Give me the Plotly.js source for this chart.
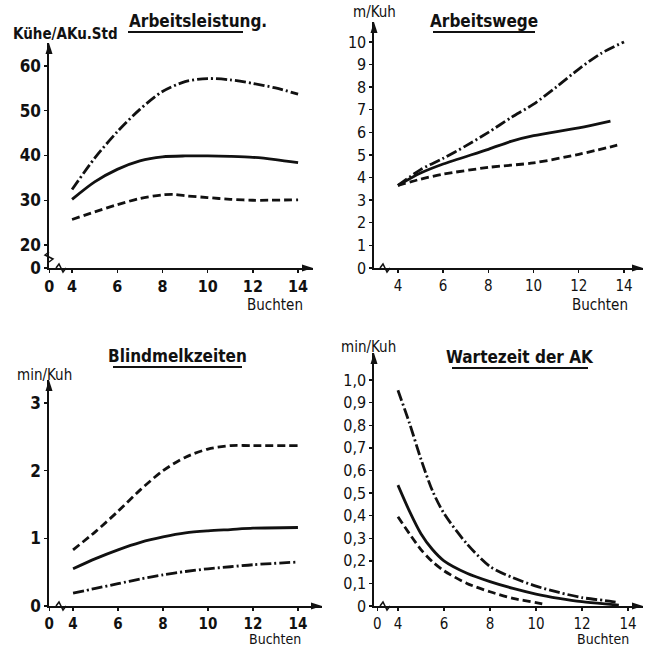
<!DOCTYPE html>
<html>
<head>
<meta charset="utf-8">
<script src="https://cdn.plot.ly/plotly-3.0.1.min.js"></script>
<style>html,body{margin:0;padding:0;background:#fff;}#chart{width:653px;height:648px;}</style>
</head>
<body>
<div id="chart"></div>
<script>
// ---------- data ----------
// Arbeitsleistung (Kühe/AKu.Std)
const buchtenA = [4, 5, 6, 7, 8, 9, 10, 11, 12, 13, 14];
const leistungDashDot = [32.4, 39.4, 45.3, 50.3, 54.3, 56.5, 57.2, 56.9, 56.1, 55.1, 53.7];
const leistungSolid   = [30.2, 34.1, 36.9, 38.8, 39.7, 39.9, 39.9, 39.8, 39.6, 39.1, 38.4];
const buchtenADash = [4, 5, 6, 7, 8, 8.5, 9, 10, 11, 12, 14];
const leistungDash    = [25.7, 27.4, 29.0, 30.4, 31.2, 31.3, 31.0, 30.6, 30.2, 30.0, 30.1];

// Arbeitswege (m/Kuh)
const buchtenW1 = [4, 5, 6, 7, 8, 9, 10, 11, 12, 13, 14];
const wegeDashDot = [3.65, 4.35, 4.85, 5.4, 6.0, 6.65, 7.25, 8.0, 8.8, 9.5, 10.0];
const buchtenW2 = [4, 5, 6, 8, 9, 10, 12, 13.4];
const wegeSolid   = [3.65, 4.2, 4.6, 5.25, 5.6, 5.85, 6.2, 6.5];
const buchtenW3 = [4, 5, 6, 8, 10, 12, 13.7];
const wegeDash    = [3.65, 3.93, 4.15, 4.45, 4.65, 5.03, 5.43];

// Blindmelkzeiten (min/Kuh)
const buchtenB = [4, 5, 6, 7, 8, 9, 10, 11, 12, 14];
const blindDash    = [0.83, 1.1, 1.4, 1.72, 2.0, 2.2, 2.32, 2.37, 2.37, 2.37];
const blindSolid   = [0.55, 0.7, 0.83, 0.94, 1.02, 1.08, 1.11, 1.13, 1.15, 1.16];
const blindDashDot = [0.19, 0.26, 0.33, 0.4, 0.46, 0.51, 0.55, 0.58, 0.61, 0.65];

// Wartezeit der AK (min/Kuh)
const buchtenZ1 = [4, 4.5, 5, 5.5, 6, 7, 8, 9, 10, 11, 12, 13, 13.6];
const warteDashDot = [0.955, 0.81, 0.65, 0.51, 0.41, 0.275, 0.175, 0.125, 0.088, 0.06, 0.037, 0.024, 0.015];
const warteSolid   = [0.535, 0.42, 0.32, 0.25, 0.2, 0.145, 0.108, 0.078, 0.053, 0.034, 0.019, 0.009, 0.004];
const buchtenZ2 = [4, 4.5, 5, 5.5, 6, 7, 8, 9, 10, 10.3];
const warteDash    = [0.395, 0.32, 0.25, 0.196, 0.156, 0.1, 0.063, 0.034, 0.015, 0.009];

// tick labels
const xTicksA = ['0', '4', '6', '8', '10', '12', '14'];
const xTicksB = ['4', '6', '8', '10', '12', '14'];
const yTicks1 = ['0', '20', '30', '40', '50', '60'];
const yTicks2 = ['0','1','2','3','4','5','6','7','8','9','10'];
const yTicks3 = ['0', '1', '2', '3'];
const yTicks4 = ['0','0,1','0,2','0,3','0,4','0,5','0,6','0,7','0,8','0,9','1,0'];

// ---------- helpers ----------
const W = 653, H = 648;
const px = x => x / W;
const py = y => 1 - y / H;
const FONT = '"DejaVu Sans Condensed", "Liberation Sans Narrow", "Liberation Sans", Arial, sans-serif';

const SOLID = 'solid';
const DASH = '8px,4px';
const DASHDOT = '11px,3px,2px,3px';

function line(x, y, dash, xa, ya) {
  return {
    x: x, y: y, xaxis: xa, yaxis: ya, mode: 'lines', type: 'scatter',
    line: {color: '#111', width: 2.8, dash: dash, shape: 'spline', smoothing: 0.8},
    hoverinfo: 'skip', showlegend: false
  };
}

const data = [
  line(buchtenA, leistungDashDot, DASHDOT, 'x', 'y'),
  line(buchtenA, leistungSolid, SOLID, 'x', 'y'),
  line(buchtenADash, leistungDash, DASH, 'x', 'y'),
  line(buchtenW1, wegeDashDot, DASHDOT, 'x2', 'y2'),
  line(buchtenW2, wegeSolid, SOLID, 'x2', 'y2'),
  line(buchtenW3, wegeDash, DASH, 'x2', 'y2'),
  line(buchtenB, blindDash, DASH, 'x3', 'y3'),
  line(buchtenB, blindSolid, SOLID, 'x3', 'y3'),
  line(buchtenB, blindDashDot, DASHDOT, 'x3', 'y3'),
  line(buchtenZ1, warteDashDot, DASHDOT, 'x4', 'y4'),
  line(buchtenZ1, warteSolid, SOLID, 'x4', 'y4'),
  line(buchtenZ2, warteDash, DASH, 'x4', 'y4')
];

function axis(domain, range, tickvals, ticktext, anchor, font) {
  return {
    domain: domain, range: range, anchor: anchor,
    tickmode: 'array', tickvals: tickvals, ticktext: ticktext,
    showline: true, linecolor: '#111', linewidth: 1.6,
    ticks: 'outside', ticklen: 3, tickwidth: 1.4, tickcolor: '#111',
    showgrid: false, zeroline: false, fixedrange: true,
    tickfont: font
  };
}
const fontBold = {family: FONT, size: 17, color: '#111', weight: 700};
const fontReg = {family: FONT, size: 16, color: '#111'};
const fontBoldX = {family: FONT, size: 16, color: '#111', weight: 700};
const fontBoldX3 = {family: FONT, size: 15, color: '#111', weight: 700};
const fontRegX = {family: FONT, size: 15, color: '#111'};

const layout = {
  width: W, height: H,
  margin: {l: 0, r: 0, t: 0, b: 0},
  paper_bgcolor: '#fff', plot_bgcolor: 'rgba(0,0,0,0)',
  showlegend: false,
  xaxis: axis([px(49), px(313)], [2.98, 14.66], [2.99, 4, 6, 8, 10, 12, 14], xTicksA, 'y', fontBoldX),
  yaxis: axis([py(268), py(43)], [14.86, 65.14], [14.87, 20, 30, 40, 50, 60], yTicks1, 'x', fontBold),
  xaxis2: axis([px(374), px(643)], [2.94, 14.84], [4, 6, 8, 10, 12, 14], xTicksB, 'y2', fontRegX),
  yaxis2: axis([py(268), py(22)], [0, 10.88], [0,1,2,3,4,5,6,7,8,9,10], yTicks2, 'x2', fontReg),
  xaxis3: axis([px(49), px(322)], [2.93, 15.07], [2.94, 4, 6, 8, 10, 12, 14], xTicksA, 'y3', fontBoldX3),
  yaxis3: axis([py(606), py(380)], [0, 3.34], [0, 1, 2, 3], yTicks3, 'x3', fontBold),
  xaxis4: axis([px(374), px(643)], [2.96, 14.65], [3.1, 4, 6, 8, 10, 12, 14], xTicksA, 'y4', fontRegX),
  yaxis4: axis([py(606), py(353)], [0, 1.12], [0,0.1,0.2,0.3,0.4,0.5,0.6,0.7,0.8,0.9,1.0], yTicks4, 'x4', fontReg),
  shapes: [],
  annotations: []
};

// arrowheads, axis breaks, title underlines (decoration, pixel based)
function tri(x1,y1,x2,y2,x3,y3) {
  return {type: 'path', xref: 'paper', yref: 'paper', line: {width: 0}, fillcolor: '#111',
    path: `M${px(x1)},${py(y1)} L${px(x2)},${py(y2)} L${px(x3)},${py(y3)} Z`};
}
function poly(pts, w) {
  return {type: 'path', xref: 'paper', yref: 'paper', line: {color: '#111', width: w || 1.5},
    path: pts.map((p, i) => (i ? 'L' : 'M') + px(p[0]) + ',' + py(p[1])).join(' ')};
}
function yArrow(x, yTip) { return tri(x, yTip, x - 3.5, yTip + 11, x + 3.5, yTip + 11); }
function xArrow(xTip, y) { return tri(xTip, y, xTip - 11, y - 3.5, xTip - 11, y + 3.5); }
function xBreak(x, y) { return poly([[x - 5, y], [x - 2, y - 4], [x + 2, y + 4], [x + 5, y]], 1.5); }
function yBreak(x, y) { return poly([[x, y + 5], [x + 4, y + 2], [x - 4, y - 2], [x, y - 5]], 1.5); }

layout.shapes.push(
  yArrow(49, 43), xArrow(313, 268), xBreak(61, 268), yBreak(49, 257),
  yArrow(374, 22), xArrow(643, 268), xBreak(385, 268),
  yArrow(49, 380), xArrow(322, 606), xBreak(61, 606),
  yArrow(374, 353), xArrow(643, 606), xBreak(385, 606),
  // x-axis lines reaching slightly left of the y-axis
  poly([[44, 268], [49, 268]], 1.6), poly([[369, 268], [374, 268]], 1.6),
  poly([[44, 606], [49, 606]], 1.6), poly([[369, 606], [374, 606]], 1.6),
  // underlines
  poly([[128, 32], [243, 32]], 2), poly([[433, 32], [535, 32]], 2),
  poly([[113, 367], [242, 367]], 2), poly([[452, 368], [588, 368]], 2)
);

function txt(text, x, y, size, bold, anchor, yanchor) {
  return {text: text, xref: 'paper', yref: 'paper', x: px(x), y: py(y), showarrow: false,
    xanchor: anchor || 'center', yanchor: yanchor || 'middle', borderpad: 0,
    font: {family: FONT, size: size, color: '#111', weight: bold ? 700 : 400}};
}
layout.annotations.push(
  txt('Arbeitsleistung.', 128, 21, 17, true, 'left'),
  txt('Kühe/AKu.Std', 12, 34, 15, true, 'left'),
  txt('Buchten', 275, 305, 15, false),
  txt('Arbeitswege', 484, 21, 17, true),
  txt('m/Kuh', 352, 12, 15, false, 'left'),
  txt('Buchten', 600, 305, 15, false),
  txt('Blindmelkzeiten', 178, 356, 17, true),
  txt('min/Kuh', 16, 375, 15, false, 'left'),
  txt('Buchten', 275, 648, 14, false, 'center', 'bottom'),
  txt('Wartezeit der AK', 520, 357, 17, true),
  txt('min/Kuh', 340, 347, 15, false, 'left'),
  txt('Buchten', 603, 648, 14, false, 'center', 'bottom')
);

Plotly.newPlot('chart', data, layout, {displayModeBar: false, staticPlot: true});
</script>
</body>
</html>
